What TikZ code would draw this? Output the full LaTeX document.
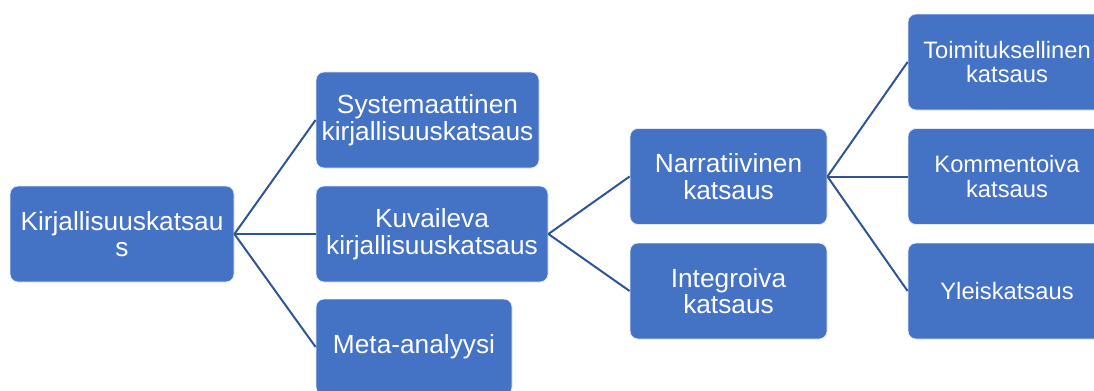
\documentclass[tikz,border=0pt]{standalone}
\usepackage{fontspec}
\setmainfont{Liberation Sans}
\definecolor{boxblue}{RGB}{68,114,196}
\definecolor{linkblue}{RGB}{47,85,151}
\tikzset{
  treebox/.style 2 args={draw=white!85!boxblue, line width=0.6pt, fill=boxblue, rounded corners=6pt,
    text=white, align=center, inner sep=0pt,
    minimum width=#1*0.75pt, minimum height=#2*0.75pt},
  bigtext/.style={font=\fontsize{19.7}{20}\selectfont},
  smalltext/.style={font=\fontsize{17.8}{18.2}\selectfont},
  link/.style={draw=linkblue, line width=1.5pt}
}
\begin{document}
\begin{tikzpicture}[x=0.75pt,y=-0.75pt]
\useasboundingbox (0,0) rectangle (1094,390);
\clip (0,0) rectangle (1094,390);
\node[treebox={224}{96}, bigtext] (k0) at (122,234) {Kirjallisuuskatsau\\s};
\node[treebox={223}{96}, bigtext] (s1) at (427.5,120) {Systemaattinen\\kirjallisuuskatsaus};
\node[treebox={232}{96}, bigtext] (s2) at (432,234) {Kuvaileva\\kirjallisuuskatsaus};
\node[treebox={196}{96}, bigtext] (s3) at (414,347) {Meta-analyysi};
\node[treebox={197}{96}, bigtext] (n1) at (728.5,176.5) {Narratiivinen\\katsaus};
\node[treebox={197}{96}, bigtext] (n2) at (728.5,291) {Integroiva\\katsaus};
\node[treebox={198}{96}, smalltext] (r1) at (1007,62) {Toimituksellinen\\katsaus};
\node[treebox={198}{96}, smalltext] (r2) at (1007,176.5) {Kommentoiva\\katsaus};
\node[treebox={198}{96}, smalltext] (r3) at (1007,291) {Yleiskatsaus};
\draw[link] (k0.east) -- (s1.west);
\draw[link] (k0.east) -- (s2.west);
\draw[link] (k0.east) -- (s3.west);
\draw[link] (s2.east) -- (n1.west);
\draw[link] (s2.east) -- (n2.west);
\draw[link] (n1.east) -- (r1.west);
\draw[link] (n1.east) -- (r2.west);
\draw[link] (n1.east) -- (r3.west);
\end{tikzpicture}
\end{document}
